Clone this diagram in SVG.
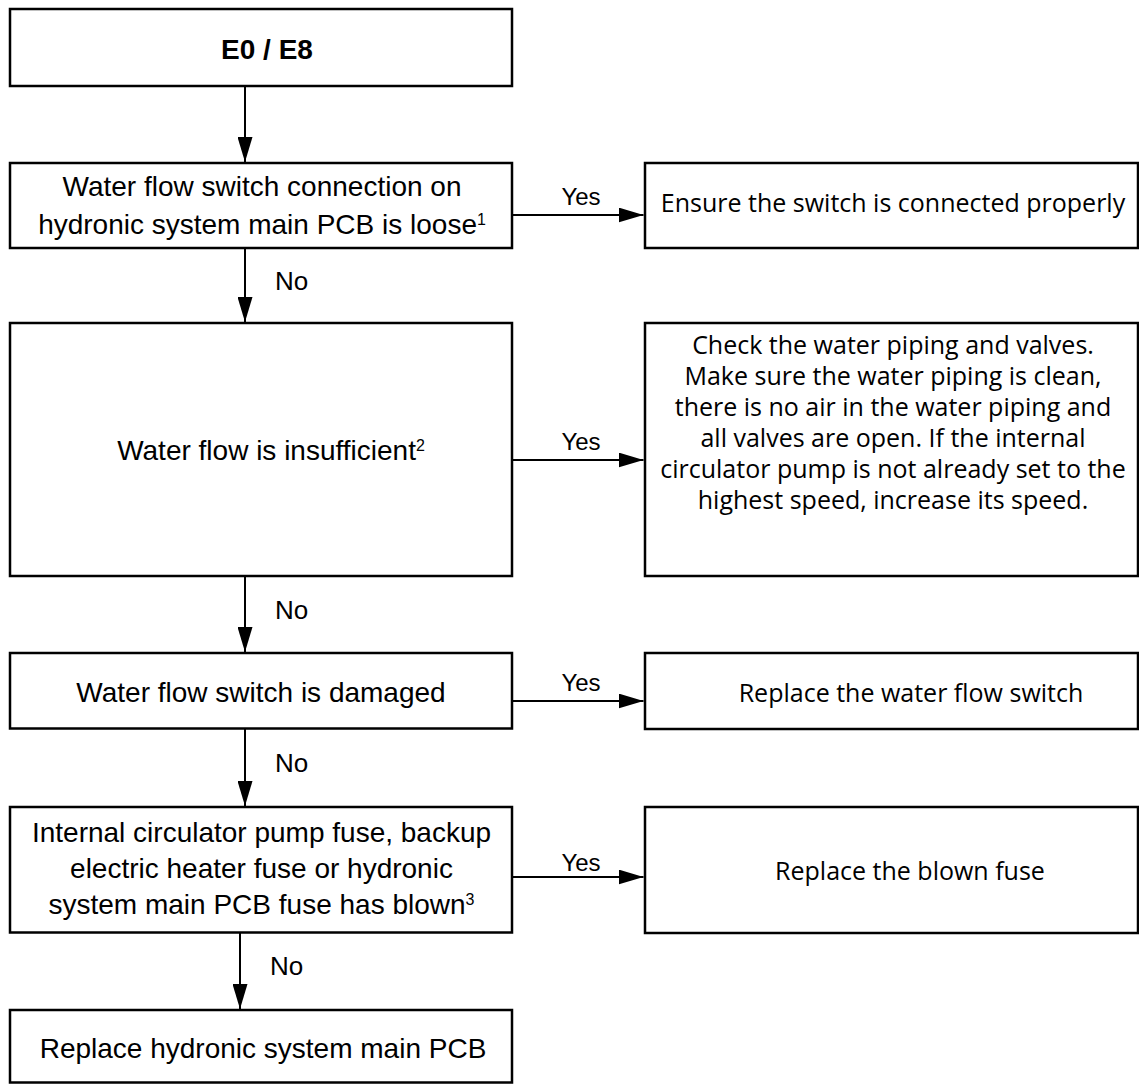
<svg xmlns="http://www.w3.org/2000/svg" width="1139" height="1084" viewBox="0 0 1139 1084">
<style>
.box{fill:#fff;stroke:#000;stroke-width:2.5}
.lt{font-family:"Liberation Sans",Arial,sans-serif;font-size:28px;fill:#000;text-anchor:middle}
.bold{font-weight:bold}
.rt{font-family:"Open Sans","Noto Sans",sans-serif;font-size:25px;fill:#000;text-anchor:middle}
.yes{font-family:"Liberation Sans",Arial,sans-serif;font-size:24px;fill:#000;text-anchor:middle}
.no{font-family:"Liberation Sans",Arial,sans-serif;font-size:26px;fill:#000}
.sup{font-size:16px}
.conn{stroke:#000;stroke-width:2;fill:none;marker-end:url(#ah)}
</style>
<defs>
<marker id="ah" markerUnits="userSpaceOnUse" markerWidth="25" markerHeight="15" refX="25" refY="7.5" orient="auto">
<path d="M0,0 L25,7.5 L0,15 Z" fill="#000"/>
</marker>
</defs>
<rect width="1139" height="1084" fill="#fff"/>
<g id="connectors">
<line class="conn" x1="245" y1="86" x2="245" y2="162"/>
<line class="conn" x1="245" y1="248" x2="245" y2="322"/>
<line class="conn" x1="245" y1="576" x2="245" y2="652"/>
<line class="conn" x1="245" y1="729" x2="245" y2="806"/>
<line class="conn" x1="240" y1="932" x2="240" y2="1009"/>
<line class="conn" x1="512" y1="215" x2="643.5" y2="215"/>
<line class="conn" x1="512" y1="460" x2="643.5" y2="460"/>
<line class="conn" x1="512" y1="701" x2="643.5" y2="701"/>
<line class="conn" x1="512" y1="877" x2="643.5" y2="877"/>
<text class="yes" x="581" y="205">Yes</text>
<text class="yes" x="581" y="450">Yes</text>
<text class="yes" x="581" y="691">Yes</text>
<text class="yes" x="581" y="871">Yes</text>
<text class="no" x="275" y="289.5">No</text>
<text class="no" x="275" y="618.5">No</text>
<text class="no" x="275" y="772">No</text>
<text class="no" x="270" y="975">No</text>
</g>
<g id="start">
<rect class="box" x="10" y="9" width="502" height="77"/>
<text class="lt bold" x="267" y="59">E0 / E8</text>
</g>
<g id="loose">
<rect class="box" x="10" y="163" width="502" height="85"/>
<text class="lt" x="262" y="196">Water flow switch connection on</text>
<text class="lt" x="262" y="234">hydronic system main PCB is loose<tspan class="sup" dy="-9">1</tspan></text>
</g>
<g id="ensure">
<rect class="box" x="645" y="163" width="493" height="85"/>
<text class="rt" x="893" y="212">Ensure the switch is connected properly</text>
</g>
<g id="insufficient">
<rect class="box" x="10" y="323" width="502" height="253"/>
<text class="lt" x="271" y="460">Water flow is insufficient<tspan class="sup" dy="-9">2</tspan></text>
</g>
<g id="check">
<rect class="box" x="645" y="323" width="493" height="253"/>
<text class="rt" x="893" y="354">Check the water piping and valves.</text>
<text class="rt" x="893" y="385">Make sure the water piping is clean,</text>
<text class="rt" x="893" y="416">there is no air in the water piping and</text>
<text class="rt" x="893" y="447">all valves are open. If the internal</text>
<text class="rt" x="893" y="478">circulator pump is not already set to the</text>
<text class="rt" x="893" y="509">highest speed, increase its speed.</text>
</g>
<g id="damaged">
<rect class="box" x="10" y="653" width="502" height="75.5"/>
<text class="lt" x="261" y="702">Water flow switch is damaged</text>
</g>
<g id="replace-switch">
<rect class="box" x="645" y="653" width="493" height="76"/>
<text class="rt" x="911" y="702">Replace the water flow switch</text>
</g>
<g id="fuse">
<rect class="box" x="10" y="807" width="502" height="125.5"/>
<text class="lt" x="261.5" y="842">Internal circulator pump fuse, backup</text>
<text class="lt" x="261.5" y="878">electric heater fuse or hydronic</text>
<text class="lt" x="261.5" y="914">system main PCB fuse has blown<tspan class="sup" dy="-9">3</tspan></text>
</g>
<g id="replace-fuse">
<rect class="box" x="645" y="807" width="493" height="126"/>
<text class="rt" x="910" y="880">Replace the blown fuse</text>
</g>
<g id="replace-pcb">
<rect class="box" x="10" y="1010" width="502" height="72.5"/>
<text class="lt" x="263" y="1058">Replace hydronic system main PCB</text>
</g>
</svg>
